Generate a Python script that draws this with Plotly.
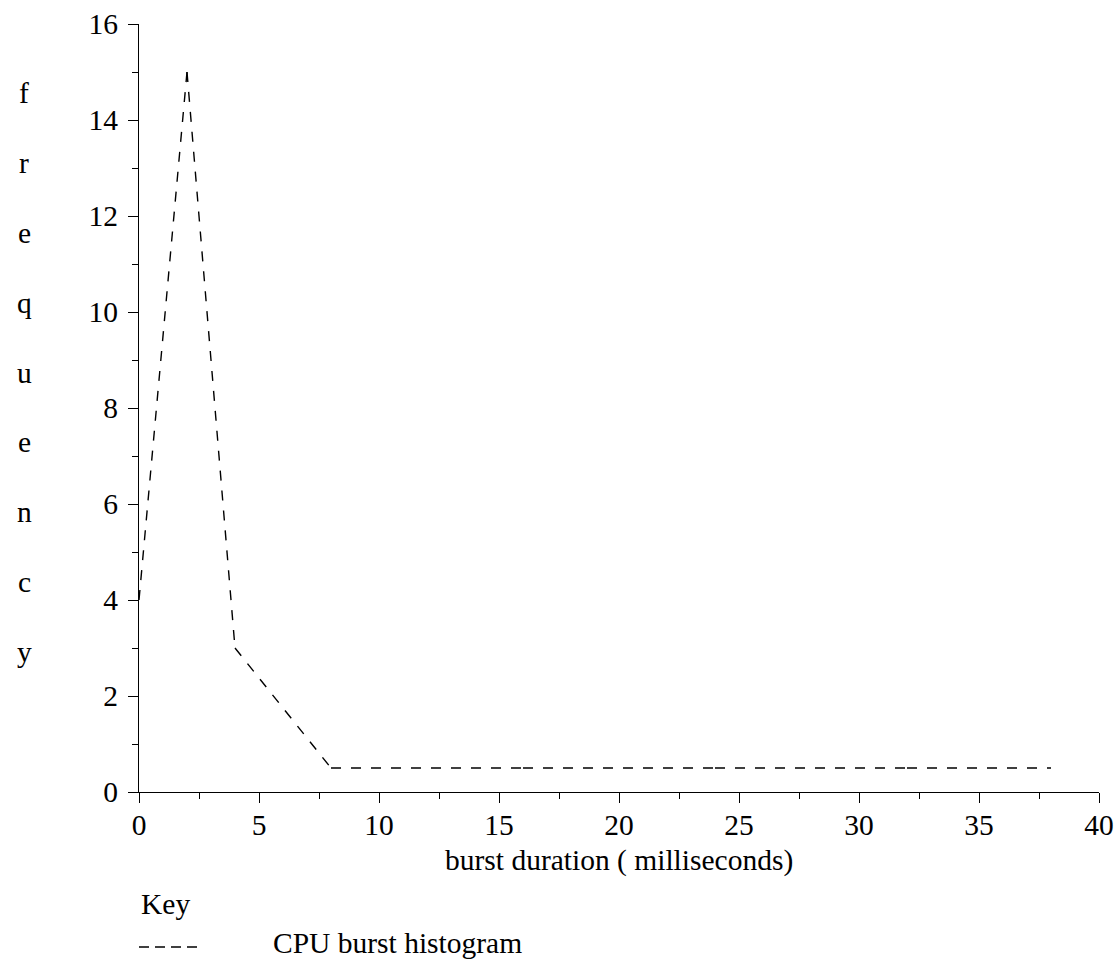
import plotly.graph_objects as go

# Data
burst_ms = [0, 2, 4, 8, 16, 24, 32, 38]
frequency = [4, 15, 3, 0.5, 0.5, 0.5, 0.5, 0.5]
x_ticks = [0, 5, 10, 15, 20, 25, 30, 35, 40]
y_ticks = [0, 2, 4, 6, 8, 10, 12, 14, 16]
y_title_letters = list("frequency")
x_title = "burst duration ( milliseconds)"
legend_key = "Key"
series_name = "CPU burst histogram"

W, H = 1117, 962
L, R, T, B = 139, 18, 24, 170
FONT = "Liberation Serif, Times New Roman, serif"
FS = 29.5

def px_to_paper_x(px):
    return (px - L) / (W - L - R)

def px_to_paper_y(py):
    return (H - B - py) / (H - T - B)

fig = go.Figure()
# each segment drawn separately so the dash pattern restarts at every vertex
for i in range(len(burst_ms) - 1):
    fig.add_trace(go.Scatter(
        x=burst_ms[i:i + 2], y=frequency[i:i + 2], mode="lines",
        line=dict(color="black", width=1.4, dash="10px,10px"),
        showlegend=False, hoverinfo="skip", cliponaxis=False,
    ))

axis_common = dict(
    showgrid=False, zeroline=False, showline=True, linecolor="black", linewidth=1.3,
    ticks="outside", ticklen=10, tickwidth=1.3, tickcolor="black", automargin=False,
    tickfont=dict(family=FONT, size=FS, color="black"),
)

fig.update_xaxes(range=[0, 40], tickvals=x_ticks, ticktext=[str(v) for v in x_ticks],
                 minor=dict(ticks="outside", ticklen=6, tickwidth=1.3, tickcolor="black", dtick=2.5, tick0=0),
                 ticklabelstandoff=-4, **axis_common)
fig.update_yaxes(range=[0, 16], tickvals=y_ticks, ticktext=[str(v) for v in y_ticks],
                 minor=dict(ticks="outside", ticklen=6, tickwidth=1.3, tickcolor="black", dtick=1, tick0=0),
                 ticklabelstandoff=4, **axis_common)

annotations = []
# vertical stacked y-axis title
y0, step = 93, 69.875
for i, ch in enumerate(y_title_letters):
    annotations.append(dict(
        text=ch, xref="paper", yref="paper", x=px_to_paper_x(24), y=px_to_paper_y(y0 + i * step),
        xanchor="center", yanchor="middle", showarrow=False,
        font=dict(family=FONT, size=FS, color="black"),
    ))
# x-axis title
annotations.append(dict(
    text=x_title, xref="paper", yref="paper", x=0.5, y=px_to_paper_y(860),
    xanchor="center", yanchor="middle", showarrow=False,
    font=dict(family=FONT, size=FS, color="black"),
))
# key
annotations.append(dict(
    text=legend_key, xref="paper", yref="paper", x=px_to_paper_x(139), y=px_to_paper_y(904),
    xanchor="left", yanchor="middle", showarrow=False,
    font=dict(family=FONT, size=FS, color="black"),
))
annotations.append(dict(
    text=series_name, xref="paper", yref="paper", x=px_to_paper_x(271), y=px_to_paper_y(943),
    xanchor="left", yanchor="middle", showarrow=False,
    font=dict(family=FONT, size=FS, color="black"),
))

shapes = [dict(
    type="line", xref="paper", yref="paper",
    x0=px_to_paper_x(139), x1=px_to_paper_x(199), y0=px_to_paper_y(947), y1=px_to_paper_y(947),
    line=dict(color="black", width=1.4, dash="10px,6px"),
)]

fig.update_layout(
    width=W, height=H, autosize=False,
    margin=dict(l=L, r=R, t=T, b=B, pad=0, autoexpand=False),
    paper_bgcolor="white", plot_bgcolor="white",
    showlegend=False,
    annotations=annotations, shapes=shapes,
    font=dict(family=FONT, size=FS, color="black"),
)

fig.write_html(
    "out.html",
    config={"displayModeBar": False},
    post_script="document.body.style.margin='0';document.body.style.overflow='hidden';"
                "document.documentElement.style.overflow='hidden';",
)
